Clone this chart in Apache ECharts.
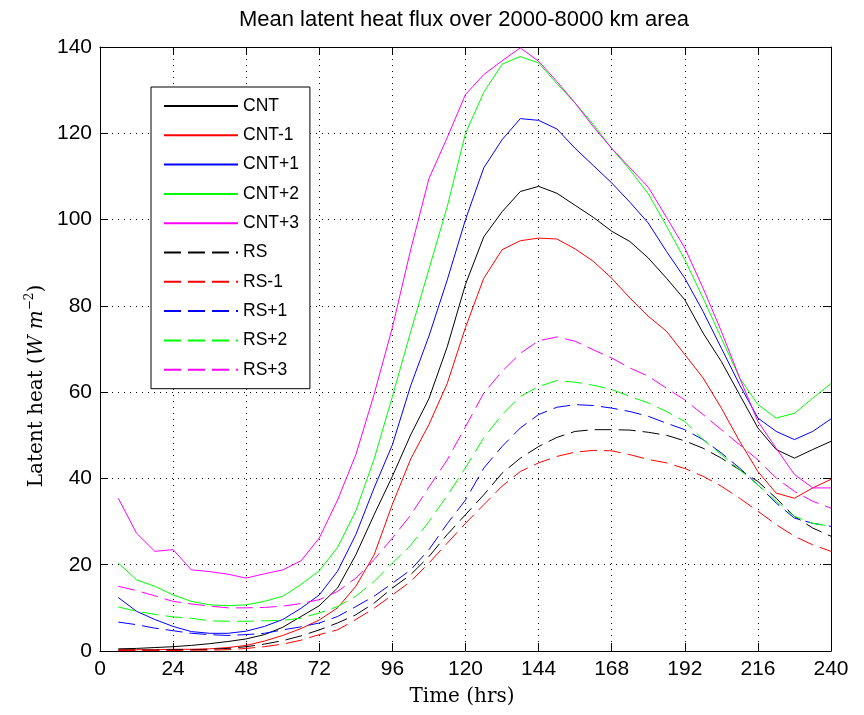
<!DOCTYPE html>
<html>
<head>
<meta charset="utf-8">
<script src="https://cdn.jsdelivr.net/npm/echarts@6/dist/echarts.min.js"></script>
<style>
  html, body { margin: 0; padding: 0; background: #fff; }
  #chart { width: 864px; height: 715px; }
</style>
</head>
<body>
<div id="chart"></div>
<script>
// Forecast hour of each sample
const hours = [6, 12, 18, 24, 30, 36, 42, 48, 54, 60, 66, 72, 78, 84, 90, 96, 102, 108, 114, 120,
               126, 132, 138, 144, 150, 156, 162, 168, 174, 180, 186, 192, 198, 204, 210, 216, 222, 228, 234, 240];

// Mean latent heat flux (W m^-2), control runs
const cnt   = [0.5, 0.6, 0.8, 1.0, 1.3, 1.7, 2.2, 2.8, 3.8, 5.5, 8.0, 10.5, 14.6, 22.3, 31.6, 40.5, 50.1, 58.5, 70.5, 85.0,
               96.0, 101.8, 106.5, 107.7, 106.1, 103.3, 100.5, 97.3, 94.9, 91.1, 86.4, 81.4, 73.7, 67.1, 59.4, 51.7, 46.7, 44.7, 46.7, 48.6];
const cntM1 = [0.3, 0.3, 0.3, 0.4, 0.4, 0.5, 0.8, 1.3, 2.3, 3.6, 5.2, 7.2, 10.0, 15.0, 22.3, 34.0, 44.5, 52.5, 62.0, 75.0,
               86.4, 93.0, 95.1, 95.7, 95.5, 93.2, 90.3, 86.4, 81.8, 77.6, 74.1, 68.7, 63.3, 56.3, 48.6, 41.6, 36.6, 35.4, 37.8, 39.8];
const cntP1 = [12.4, 9.2, 7.3, 5.7, 4.5, 4.1, 4.1, 4.6, 5.7, 7.3, 9.9, 13.0, 18.5, 27.0, 37.8, 47.8, 61.5, 73.0, 86.0, 100.0,
               112.0, 118.5, 123.4, 123.0, 121.0, 116.5, 112.5, 108.5, 104.0, 99.2, 92.6, 86.4, 78.7, 70.2, 61.7, 54.0, 50.9, 49.0, 50.9, 53.8];
const cntP2 = [20.4, 16.5, 15.0, 13.0, 11.5, 10.7, 10.5, 10.7, 11.5, 12.7, 15.4, 18.6, 24.0, 32.5, 44.5, 59.0, 74.0, 88.5, 103.0, 120.0,
               129.5, 136.0, 137.8, 136.3, 131.5, 127.0, 122.0, 116.5, 111.5, 106.0, 98.5, 90.7, 81.8, 72.5, 63.3, 57.1, 54.0, 55.1, 58.6, 62.0];
const cntP3 = [35.4, 27.3, 23.1, 23.5, 18.8, 18.4, 17.8, 16.9, 17.9, 18.8, 20.9, 26.2, 35.0, 45.5, 59.5, 75.0, 93.0, 109.5, 119.0, 129.0,
               133.6, 136.8, 139.8, 136.7, 132.0, 127.0, 121.5, 116.5, 112.0, 107.5, 100.5, 93.4, 84.1, 74.1, 63.3, 53.2, 47.0, 40.9, 37.8, 37.8];

// Mean latent heat flux (W m^-2), RS runs
const rs    = [0.2, 0.2, 0.2, 0.3, 0.3, 0.4, 0.6, 1.0, 1.6, 2.4, 3.5, 4.9, 6.5, 8.4, 11.1, 14.6, 17.7, 21.9, 27.0, 31.6,
               36.2, 41.2, 44.7, 47.4, 49.5, 50.9, 51.3, 51.3, 51.2, 50.7, 50.0, 48.7, 47.0, 44.7, 42.0, 39.3, 35.4, 31.2, 28.5, 26.6];
const rsM1  = [0.1, 0.1, 0.1, 0.1, 0.2, 0.2, 0.3, 0.6, 1.0, 1.6, 2.5, 3.8, 4.9, 7.3, 9.9, 13.0, 16.1, 20.4, 25.0, 29.6,
               33.9, 38.2, 41.6, 43.6, 45.1, 46.1, 46.5, 46.4, 45.5, 44.4, 43.6, 42.3, 40.5, 38.2, 35.4, 32.4, 29.3, 26.6, 24.6, 23.1];
const rsP1  = [6.7, 6.1, 5.3, 4.7, 4.1, 3.8, 3.6, 3.8, 4.1, 4.9, 5.6, 6.5, 8.0, 10.3, 12.7, 15.7, 18.8, 23.5, 29.5, 35.0,
               42.4, 47.4, 51.7, 54.8, 56.5, 57.1, 56.9, 56.3, 55.5, 54.4, 52.8, 51.3, 49.0, 45.9, 42.4, 38.5, 34.3, 30.8, 29.6, 28.9];
const rsP2  = [10.2, 9.2, 8.5, 7.9, 7.6, 7.0, 6.9, 6.9, 7.0, 7.1, 7.6, 8.8, 10.3, 12.7, 16.1, 20.4, 24.5, 30.0, 36.0, 42.5,
               49.4, 54.8, 59.0, 61.3, 62.7, 62.3, 61.6, 60.6, 59.0, 57.5, 55.5, 53.2, 49.0, 45.5, 42.0, 38.5, 34.7, 31.2, 29.6, 28.9];
const rsP3  = [15.0, 14.0, 12.8, 11.5, 10.9, 10.4, 10.0, 10.0, 10.1, 10.4, 11.0, 11.9, 13.8, 16.9, 21.2, 26.2, 31.5, 38.0, 44.3, 52.0,
               59.8, 64.8, 69.0, 71.9, 72.8, 71.8, 69.8, 67.9, 65.6, 63.7, 60.9, 58.2, 54.8, 51.3, 47.8, 44.3, 40.1, 37.0, 34.7, 33.1];

const seriesNames = ['CNT', 'CNT-1', 'CNT+1', 'CNT+2', 'CNT+3', 'RS', 'RS-1', 'RS+1', 'RS+2', 'RS+3'];
const seriesValues = [cnt, cntM1, cntP1, cntP2, cntP3, rs, rsM1, rsP1, rsP2, rsP3];
const palette = ['#000000', '#ff0000', '#0000ff', '#00ff00', '#ff00ff'];

const SANS = 'Liberation Sans, Arial, Helvetica, sans-serif';
const SERIF = 'DejaVu Serif, Liberation Serif, serif';

const series = seriesNames.map((name, i) => ({
  name: name,
  type: 'line',
  xAxisIndex: 0,
  yAxisIndex: 0,
  data: hours.map((h, k) => [h, seriesValues[i][k]]),
  showSymbol: false,
  symbol: 'none',
  smooth: false,
  animation: false,
  lineStyle: {
    color: palette[i % 5],
    width: 1,
    type: i < 5 ? 'solid' : [17, 7]
  },
  itemStyle: { color: palette[i % 5] },
  emphasis: { disabled: true }
}));

const commonX = {
  type: 'value', min: 0, max: 240, interval: 24,
  axisLine: { show: true, onZero: false, lineStyle: { color: '#000', width: 1 } },
  axisTick: { show: true, inside: true, length: 8, lineStyle: { color: '#000' } }
};
const commonY = {
  type: 'value', min: 0, max: 140, interval: 20,
  axisLine: { show: true, onZero: false, lineStyle: { color: '#000', width: 1 } },
  axisTick: { show: true, inside: true, length: 8, lineStyle: { color: '#000' } }
};

const chart = echarts.init(document.getElementById('chart'), null, { renderer: 'canvas' });
chart.setOption({
  animation: false,
  backgroundColor: '#fff',
  grid: { left: 100, top: 47, width: 731, height: 604, containLabel: false },
  xAxis: [
    Object.assign({}, commonX, {
      position: 'bottom',
      axisLabel: { show: true, margin: 8, color: '#000', fontSize: 21, fontFamily: SANS },
      splitLine: { show: true, lineStyle: { color: '#000', width: 1, type: [1, 5] } }
    }),
    Object.assign({}, commonX, {
      position: 'top',
      axisLabel: { show: false },
      splitLine: { show: false }
    })
  ],
  yAxis: [
    Object.assign({}, commonY, {
      position: 'left',
      axisLabel: { show: true, margin: 8, color: '#000', fontSize: 21, fontFamily: SANS },
      splitLine: { show: true, lineStyle: { color: '#000', width: 1, type: [1, 5] } }
    }),
    Object.assign({}, commonY, {
      position: 'right',
      axisLabel: { show: false },
      splitLine: { show: false }
    })
  ],
  legend: {
    data: seriesNames,
    orient: 'vertical',
    left: 151,
    top: 87,
    padding: [9, 11, 9, 12],
    itemWidth: 74,
    itemHeight: 14,
    itemGap: 9.3,
    backgroundColor: '#fff',
    borderColor: '#000',
    borderWidth: 1,
    borderRadius: 0,
    selectedMode: false,
    // line-only samples: hide the marker drawn in the middle of each sample
    itemStyle: { opacity: 0, color: 'rgba(0,0,0,0)', borderWidth: 0 },
    textStyle: { color: '#000', fontSize: 17.5, fontFamily: SANS, lineHeight: 20 }
  },
  graphic: [
    {
      type: 'text', x: 464, y: 20, silent: true,
      style: {
        text: 'Mean latent heat flux over 2000-8000 km area',
        fill: '#000', fontSize: 22, fontFamily: SANS,
        align: 'center', verticalAlign: 'middle'
      }
    },
    {
      type: 'text', x: 462, y: 697, silent: true,
      style: {
        text: 'Time (hrs)',
        fill: '#000', fontSize: 20, fontFamily: SERIF,
        align: 'center', verticalAlign: 'middle'
      }
    },
    {
      type: 'text', x: 37, y: 386, rotation: Math.PI / 2, silent: true,
      style: {
        text: '{r|Latent heat (}{i|W m}{s|−2}{r|)}',
        fill: '#000', fontSize: 20, fontFamily: SERIF,
        align: 'center', verticalAlign: 'middle',
        rich: {
          r: { fontSize: 20, fontFamily: SERIF, fill: '#000', lineHeight: 26 },
          i: { fontSize: 20, fontFamily: SERIF, fontStyle: 'italic', fill: '#000', lineHeight: 26 },
          s: { fontSize: 12, fontFamily: SERIF, fill: '#000', verticalAlign: 'top', lineHeight: 26 }
        }
      }
    }
  ],
  series: series
});
</script>
</body>
</html>
